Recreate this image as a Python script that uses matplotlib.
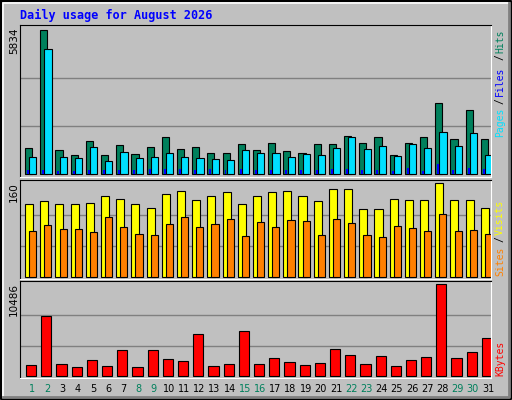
import matplotlib.pyplot as plt
import numpy as np

days = np.arange(1, 32)
hits = [1043, 5834, 963, 766, 1360, 766, 1162, 805, 1082, 1518, 1003, 1082, 845, 845, 1201, 963,
        1280, 924, 845, 1201, 1201, 1558, 1241, 1518, 766, 1241, 1518, 2864, 1439, 2587, 1439]
files = [686, 5082, 686, 647, 1082, 528, 884, 647, 686, 845, 686, 647, 607, 568, 963, 845,
         845, 686, 805, 766, 1043, 1518, 1003, 1122, 726, 1201, 1043, 1716, 1122, 1676, 766]
pages = [150, 160, 120, 130, 170, 150, 170, 160, 200, 200, 200, 160, 220, 170, 200, 160,
         160, 160, 170, 150, 200, 200, 160, 170, 130, 230, 130, 400, 160, 230, 200]
visits = [124, 129, 124, 124, 127, 139, 134, 124, 118, 141, 146, 132, 138, 145, 124, 139,
          145, 146, 139, 129, 150, 151, 117, 117, 134, 131, 132, 160, 132, 131, 118]
sites = [79, 89, 82, 82, 77, 103, 86, 73, 72, 91, 103, 86, 91, 99, 70, 94,
         86, 98, 96, 72, 99, 92, 72, 68, 87, 84, 79, 108, 79, 80, 73]
kbytes = [1301, 6812, 1416, 1072, 1875, 1186, 3023, 1072, 3023, 1990, 1760, 4860, 1186, 1416, 5205, 1416,
          2105, 1646, 1301, 1531, 3138, 2449, 1416, 2334, 1186, 1875, 2220, 10486, 2105, 2794, 4401]
weekend = [1, 2, 8, 9, 15, 16, 22, 23, 29, 30]

BG = '#C0C0C0'
GREEN = '#00805C'
W, H = 512, 400
fig = plt.figure(figsize=(5.12, 4.0), dpi=100, facecolor=BG)
lw = 0.8

# bevelled frame
frame = fig.add_axes([0, 0, 1, 1])
frame.set_xlim(0, W); frame.set_ylim(H, 0); frame.axis('off')
frame.plot([1, 1, W - 1, W - 1, 1], [1, H - 1, H - 1, 1, 1], color='black', lw=1.5)
frame.plot([3, 3, W - 3], [H - 3, 3, 3], color='white', lw=1.2)
frame.plot([3, W - 3, W - 3], [H - 3, H - 3, 3], color='#808080', lw=2)
frame.text(20, 15, 'Daily usage for August 2026', color='#0000FF', fontsize=8.5,
           family='DejaVu Sans Mono', weight='bold', va='center')


def panel(top, bottom, vmax, label):
    ax = fig.add_axes([20 / W, 1 - bottom / H, 471 / W, (bottom - top) / H])
    ax.set_facecolor(BG)
    ax.set_xlim(0.5, 31.5)
    ax.set_ylim(-0.02 * vmax, 1.035 * vmax)
    for y in (vmax / 3, 2 * vmax / 3):
        ax.axhline(y, color='#808080', lw=1, zorder=0)
    ax.set_xticks([]); ax.set_yticks([])
    ax.spines['left'].set_color('black'); ax.spines['top'].set_color('black')
    ax.spines['right'].set_color('white'); ax.spines['bottom'].set_color('white')
    frame.text(14, top + 2, label, rotation=90, ha='center', va='top', fontsize=7.5)
    return ax


ax1 = panel(25, 177, max(hits), str(max(hits)))
ax1.bar(days - 0.17, hits, 0.47, align='edge', color=GREEN, edgecolor='black', lw=lw)
ax1.bar(days + 0.11, files, 0.47, align='edge', color='#00E0FF', edgecolor='black', lw=lw)
ax1.bar(days - 0.04, pages, 0.13, align='edge', color='#0000FF', lw=0)

ax2 = panel(180, 279, max(visits), str(max(visits)))
ax2.bar(days - 0.17, visits, 0.53, align='edge', color='#FFFF00', edgecolor='black', lw=lw)
ax2.bar(days + 0.1, sites, 0.47, align='edge', color='#FF8000', edgecolor='black', lw=lw)

ax3 = panel(281, 378, max(kbytes), str(max(kbytes)))
ax3.bar(days - 0.1, kbytes, 0.67, align='edge', color='#FF0000', edgecolor='black', lw=lw)

# day labels
for d in days:
    x = 20 + (d - 0.5) * 471 / 31 + 0.3 * 471 / 31
    frame.text(x, 389, str(d), ha='center', va='center', fontsize=7,
               color=GREEN if d in weekend else 'black')


def side_label(parts):
    # parts: (text, colour, bottom y in pixels)
    for txt, col, y in parts:
        frame.text(500, y, txt, rotation=90, ha='center', va='bottom', color=col,
                   fontsize=7, family='DejaVu Sans Mono')


side_label([('Pages', '#00E0FF', 137), ('/', 'black', 104), ('Files', '#0000FF', 96),
            ('/', 'black', 60), ('Hits', GREEN, 53)])
side_label([('Sites', '#FF8000', 276), ('/', 'black', 242), ('Visits', '#FFFF00', 235)])
side_label([('KBytes', '#FF0000', 376)])

fig.savefig('out.png', dpi=100, facecolor=BG)
